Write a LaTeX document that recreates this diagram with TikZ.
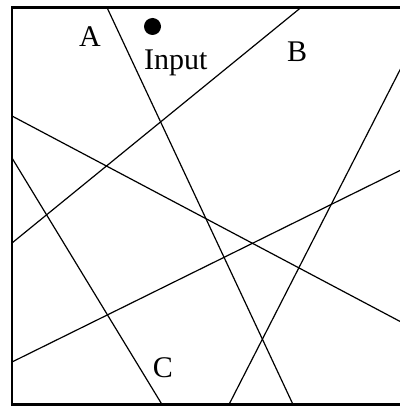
\documentclass[tikz,border=0pt]{standalone}
\usepackage{fontspec}
\setmainfont{Liberation Serif}
\usetikzlibrary{calc}
\tikzset{cutline/.style={line width=1.2pt,line cap=round},
 lbl/.style={inner sep=0pt,anchor=base,font=\fontsize{30}{36}\selectfont}}

\begin{document}
\begin{tikzpicture}[x=1pt,y=-1pt]
\useasboundingbox (0,0) rectangle (399,406);
\draw[line width=2.6pt] (12,7.5) rectangle (403,404.5);
% cuts through the region
\draw[cutline] (107,7.5) -- (293,404.5);
\draw[cutline] (301,7.5) -- (12,243);
\draw[cutline] (12,116) -- (403,323);
\draw[cutline] (12,158) -- (162,404.5);
\draw[cutline] (12,362) -- (403,169);
\draw[cutline] (403,64) -- (229,404.5);
% labels
\fill (152.5,26.5) circle (8.5);
\node[lbl] (regA) at (90,47) {A};
\node[lbl,anchor=base west] (inp) at (144,70) {Input};
\node[lbl] (regB) at (297,62) {B};
\node[lbl] (regC) at (163,377) {C};
\end{tikzpicture}
\end{document}
